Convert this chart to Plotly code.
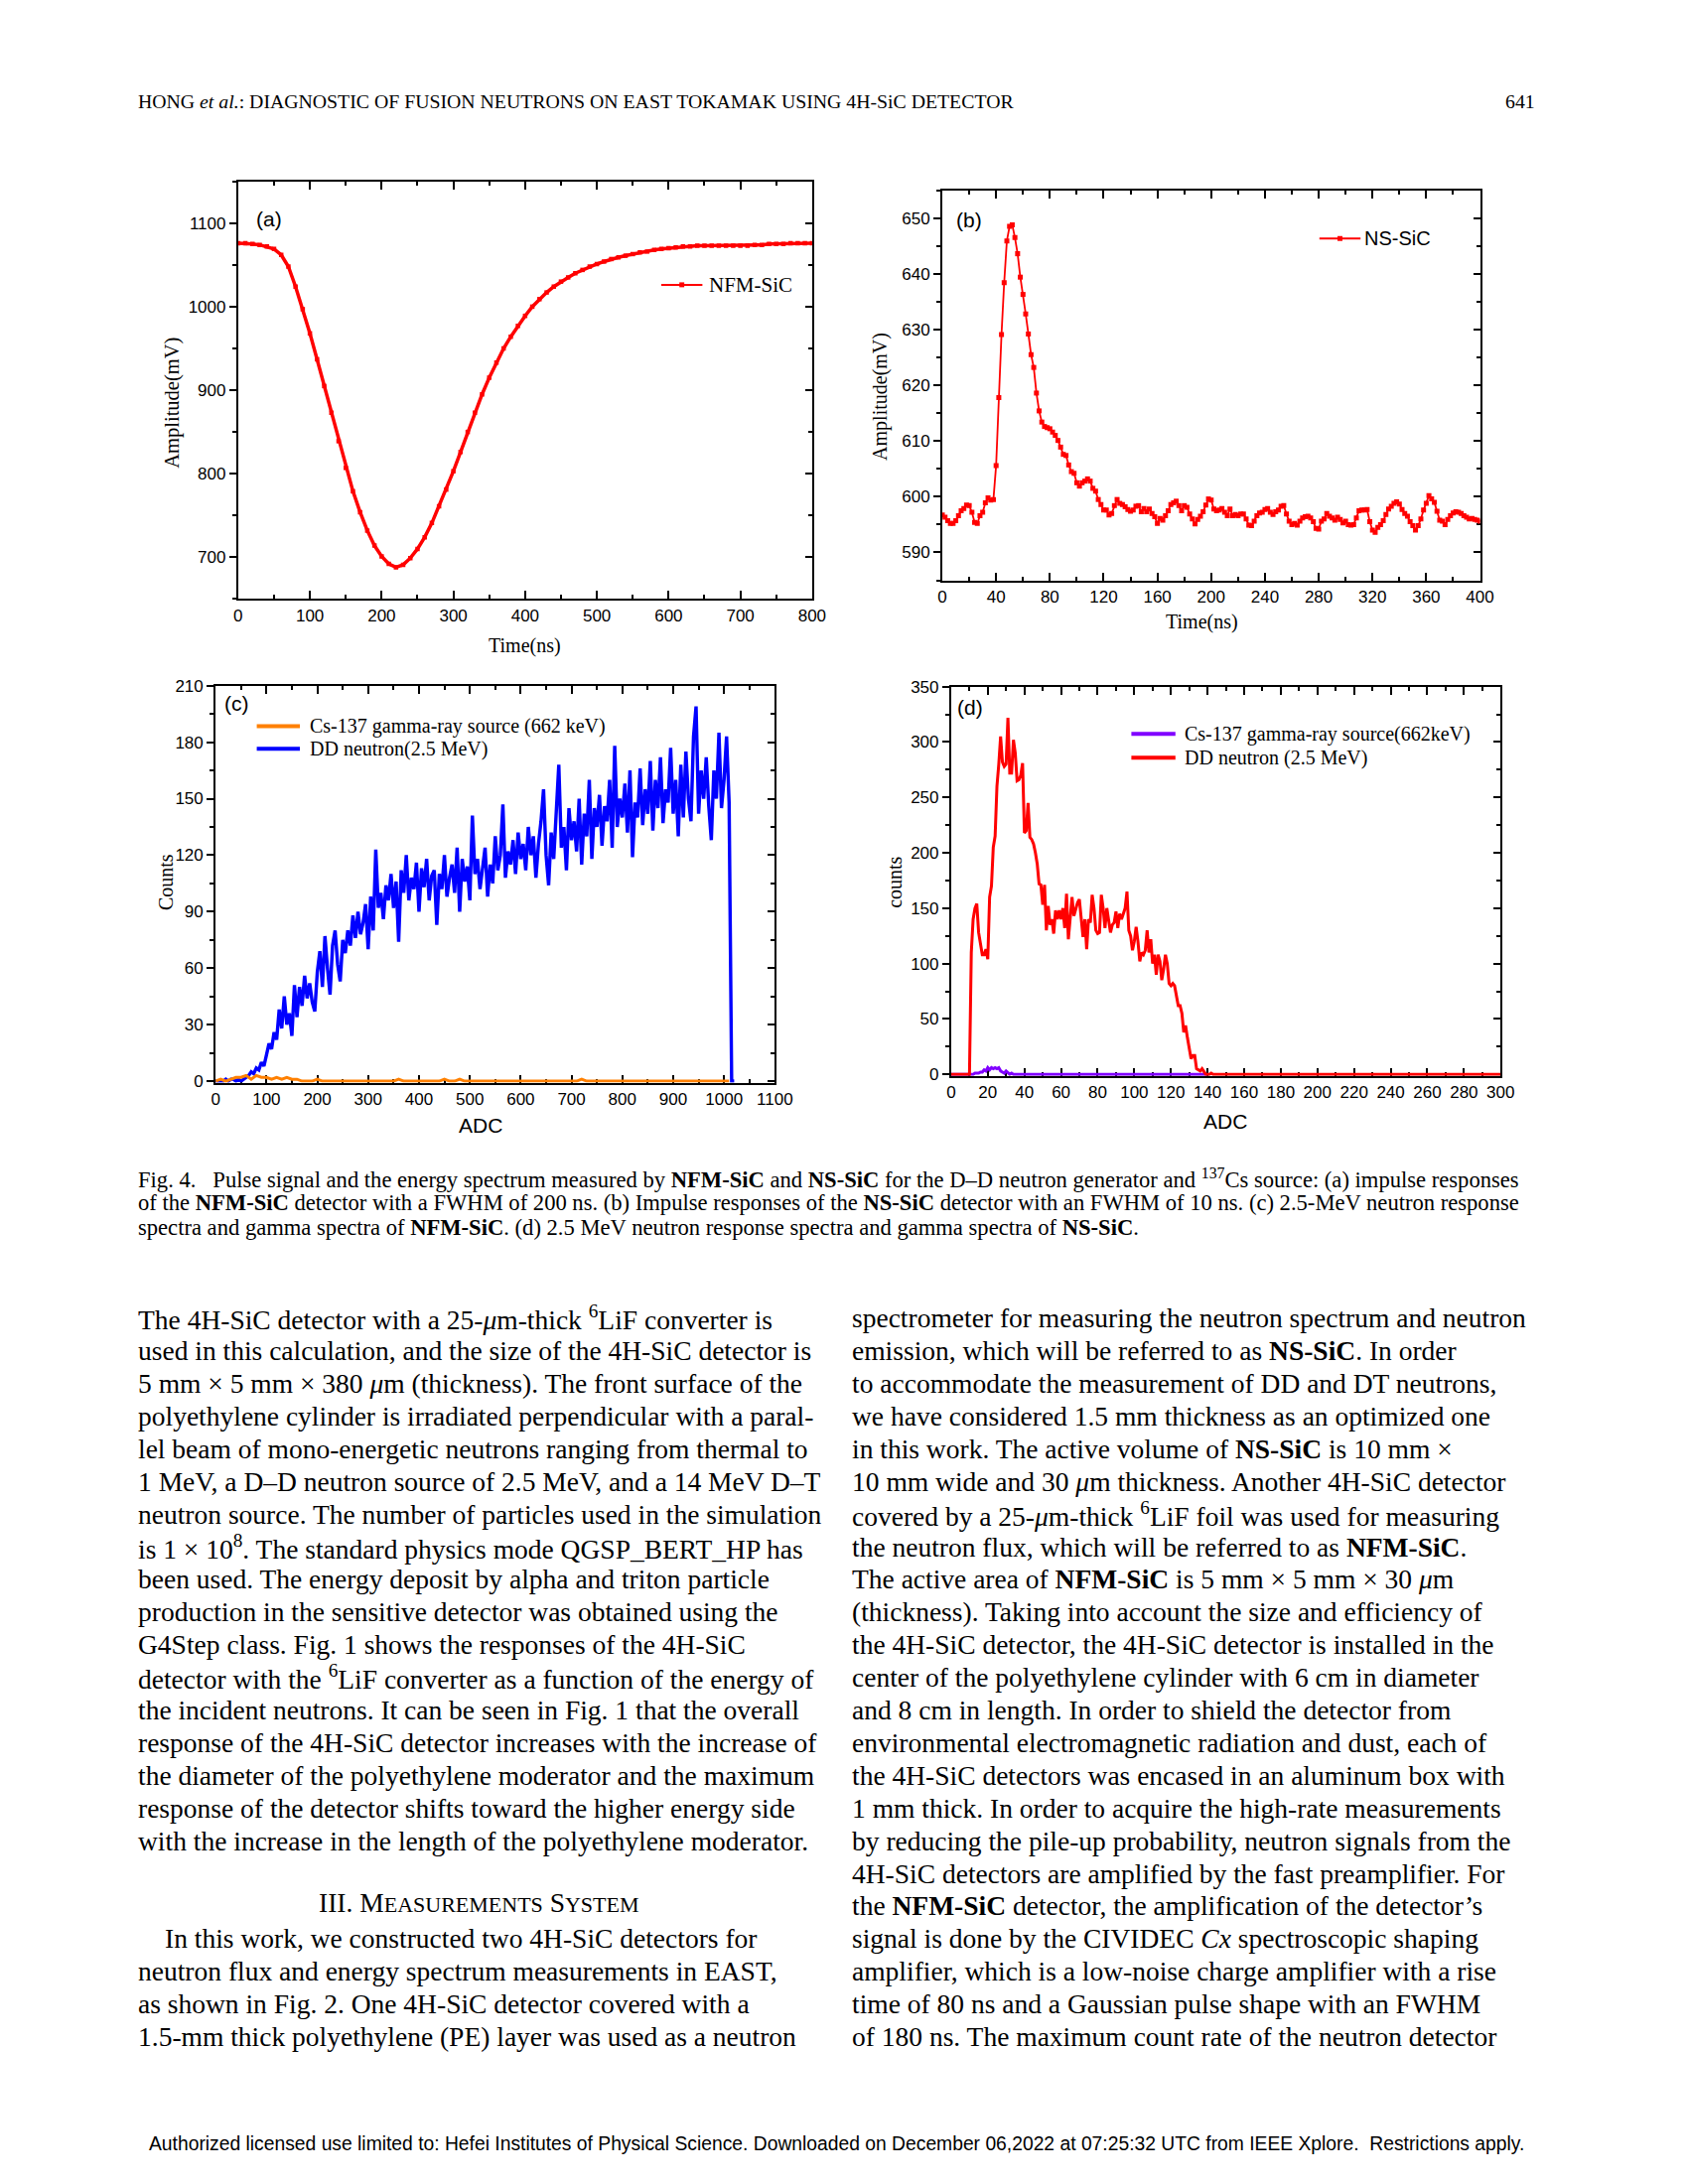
import plotly.graph_objects as go

# The page body adds an 8 px margin, so the figure is made 16 px smaller and all
# page positions are shifted by that margin.
PAGE_W, PAGE_H = 1700, 2200
OFF = 8
W, H = PAGE_W - 2 * OFF, PAGE_H - 2 * OFF
SERIF = "Liberation Serif"
SANS = "Liberation Sans"

# ---------------- data ----------------
# (a) NFM-SiC pulse, every 10 ns from 0 to 800 ns
a_step = 10
a_amp = [1076, 1076, 1075, 1074, 1072, 1069, 1062, 1048, 1024, 997,
         968, 937, 905, 873, 839, 807, 779, 754, 732, 714,
         701, 692, 688, 691, 699, 710, 724, 741, 761, 781,
         803, 826, 850, 873, 895, 915, 933, 950, 964, 977,
         989, 1000, 1009, 1017, 1024, 1030, 1035, 1040, 1044, 1048,
         1051, 1054, 1057, 1059, 1061, 1063, 1065, 1066, 1068, 1069,
         1070, 1071, 1072, 1072, 1073, 1073, 1073, 1073, 1073, 1073,
         1073, 1073, 1074, 1074, 1075, 1075, 1075, 1076, 1076, 1076,
         1076]

# (b) NS-SiC pulse, every 2 ns from 0 to 400 ns
b_step = 2
b_amp = [596.7, 596.3, 595.7, 595.2, 595.2, 595.7, 596.6, 597.5, 597.9, 598.5,
         598.4, 597.2, 595.4, 595.2, 596.6, 597.2, 598.9, 599.8, 599.4, 599.5,
         605.6, 617.8, 629.1, 638.4, 645.9, 648.5, 648.8, 646.5, 643.6, 639.4,
         636.3, 632.8, 629.2, 625.5, 623.2, 618.6, 615.4, 613.4, 612.6, 612.4,
         612.2, 611.6, 611.0, 610.1, 608.9, 607.6, 607.4, 605.7, 604.5, 604.2,
         602.5, 601.9, 602.5, 602.8, 603.2, 602.8, 601.5, 601.0, 599.5, 598.6,
         597.6, 597.6, 596.7, 597.0, 598.4, 599.5, 598.8, 598.6, 598.2, 597.7,
         597.4, 597.6, 598.3, 598.4, 597.3, 597.9, 597.3, 597.8, 597.0, 596.4,
         595.2, 596.1, 595.8, 596.6, 597.5, 598.6, 598.9, 599.2, 598.4, 597.5,
         598.4, 598.1, 596.9, 596.0, 595.1, 595.9, 596.5, 597.3, 598.5, 599.6,
         599.4, 597.8, 597.5, 597.6, 597.9, 597.2, 596.6, 597.8, 596.6, 596.8,
         596.6, 596.9, 596.9, 596.0, 594.9, 594.8, 595.6, 596.6, 597.1, 597.2,
         597.7, 597.9, 597.2, 596.8, 597.3, 597.6, 598.3, 598.4, 596.9, 595.6,
         595.0, 595.2, 594.9, 595.6, 596.2, 596.4, 596.5, 596.2, 595.5, 594.3,
         594.2, 595.6, 596.0, 597.0, 596.5, 596.2, 595.8, 596.3, 595.9, 595.3,
         595.6, 595.0, 594.9, 595.0, 596.2, 597.5, 597.6, 597.6, 597.7, 595.5,
         594.0, 593.6, 594.5, 595.0, 595.7, 596.8, 597.8, 598.3, 598.8, 599.1,
         598.7, 597.7, 597.0, 596.5, 595.5, 594.8, 594.0, 594.8, 596.0, 597.6,
         598.8, 600.2, 599.6, 599.0, 597.4, 595.8, 595.6, 595.0, 595.9, 596.6,
         597.1, 597.3, 597.2, 597.0, 596.6, 596.3, 596.0, 596.1, 595.9, 595.8,
         595.6]

# (c) NFM-SiC spectra; DD neutron every 5 ADC (0..1020), Cs-137 every 10 ADC (0..1010)
c_step_dd = 5
c_dd = [0, 0, 0, 0, 1, 0, 1, 1, 0, 1, 0, 1, 2, 3, 5, 4, 7, 6, 10, 8,
        14, 20, 17, 26, 22, 38, 28, 45, 30, 36, 24, 51, 34, 50, 40, 56, 44, 52, 42, 37,
        58, 69, 50, 77, 60, 46, 72, 80, 62, 53, 75, 68, 80, 72, 88, 76, 90, 78, 84, 94,
        70, 98, 80, 123, 92, 100, 86, 104, 96, 110, 92, 106, 74, 112, 100, 120, 96, 108, 102, 116,
        90, 113, 103, 118, 96, 109, 112, 83, 110, 102, 120, 98, 108, 115, 100, 124, 90, 118, 106, 114,
        96, 141, 110, 118, 102, 112, 124, 98, 115, 105, 130, 112, 120, 147, 108, 122, 115, 128, 110, 132,
        118, 126, 112, 135, 120, 130, 108, 126, 138, 155, 120, 104, 132, 118, 140, 168, 124, 135, 112, 145,
        128, 138, 122, 150, 115, 142, 130, 160, 118, 145, 135, 152, 125, 146, 138, 160, 124, 178, 135, 150,
        140, 158, 132, 165, 119, 148, 140, 166, 136, 155, 142, 170, 133, 160, 145, 172, 137, 155, 148, 177,
        142, 160, 130, 168, 140, 175, 150, 138, 183, 199, 142, 165, 150, 172, 146, 128, 165, 150, 185, 145,
        160, 183, 148, 0, 0]
c_step_cs = 10
c_cs = [0, 1, 0, 1, 2, 2, 3, 1, 3, 2, 2, 1, 2, 1, 2, 1, 1, 0, 0, 0,
        1, 0, 0, 0, 0, 0, 0, 0, 0, 0, 0, 0, 0, 0, 0, 0, 1, 0, 0, 0,
        0, 0, 0, 0, 0, 1, 0, 0, 1, 0, 0, 0, 0, 0, 0, 0, 0, 0, 0, 0,
        0, 0, 0, 0, 0, 0, 0, 0, 0, 0, 0, 0, 1, 0, 0, 0, 0, 0, 0, 0,
        0, 0, 0, 0, 0, 0, 0, 0, 0, 0, 0, 0, 0, 0, 0, 0, 0, 0, 0, 0,
        0, 0]

# (d) NS-SiC spectra
d_dd_adc = [0, 10] + list(range(11, 144)) + [300]
d_dd = [0, 0,
        110, 140, 150, 154, 128, 118, 108, 108, 113, 104,
        160, 170, 205, 215, 260, 280, 305, 282, 278, 280,
        322, 272, 272, 302, 290, 265, 266, 270, 281, 218,
        220, 245, 214, 212, 208, 200, 190, 172, 171, 153,
        171, 130, 152, 135, 140, 127, 148, 140, 148, 140,
        150, 132, 163, 122, 145, 160, 143, 150, 155, 158,
        140, 124, 140, 113, 140, 137, 162, 150, 130, 127,
        128, 162, 150, 132, 150, 137, 128, 135, 137, 147,
        132, 145, 140, 145, 150, 165, 130, 125, 112, 120,
        133, 120, 102, 110, 108, 112, 130, 110, 122, 100,
        108, 90, 108, 102, 85, 95, 108, 100, 82, 80,
        82, 80, 72, 62, 62, 55, 38, 44, 33, 25,
        14, 17, 17, 5, 4, 3, 5, 2, 0, 0,
        0, 1, 0,
        0]
d_cs_adc = list(range(0, 41)) + [140]
d_cs = [0, 0, 0, 0, 0, 0, 0, 0, 0, 0, 0, 0, 0,
        1, 1, 1, 2, 2, 4, 3, 6, 4, 6, 5, 6, 5, 6, 3, 2, 1, 3, 1, 0, 1, 0,
        0, 0, 0, 0, 0, 0,
        0]

# ---------------- figure ----------------
fig = go.Figure()

RED = "#FF0000"
BLUE = "#0000FF"
ORANGE = "#FF8000"
PURPLE = "#8000FF"

fig.add_trace(go.Scatter(x=[a_step * i for i in range(len(a_amp))], y=a_amp,
                         mode="lines+markers", line=dict(color=RED, width=3.5),
                         marker=dict(symbol="square", size=4.5, color=RED),
                         xaxis="x", yaxis="y", showlegend=False, name="NFM-SiC"))
fig.add_trace(go.Scatter(x=[b_step * i for i in range(len(b_amp))], y=b_amp,
                         mode="lines+markers", line=dict(color=RED, width=1.8),
                         marker=dict(symbol="square", size=5, color=RED),
                         xaxis="x2", yaxis="y2", showlegend=False, name="NS-SiC"))
fig.add_trace(go.Scatter(x=[c_step_dd * i for i in range(len(c_dd))], y=c_dd,
                         mode="lines", line=dict(color=BLUE, width=3.4),
                         xaxis="x3", yaxis="y3", showlegend=False, name="DD neutron(2.5 MeV)"))
fig.add_trace(go.Scatter(x=[c_step_cs * i for i in range(len(c_cs))], y=c_cs,
                         mode="lines", line=dict(color=ORANGE, width=3),
                         xaxis="x3", yaxis="y3", showlegend=False, name="Cs-137 gamma-ray source (662 keV)"))
fig.add_trace(go.Scatter(x=d_cs_adc, y=d_cs,
                         mode="lines", line=dict(color=PURPLE, width=3),
                         xaxis="x4", yaxis="y4", showlegend=False, name="Cs-137 gamma-ray source(662keV)"))
fig.add_trace(go.Scatter(x=d_dd_adc, y=d_dd,
                         mode="lines", line=dict(color=RED, width=3),
                         xaxis="x4", yaxis="y4", showlegend=False, name="DD neutron (2.5 MeV)"))

def fx(X):
    return (X - OFF) / W

def fy(Y):
    return 1 - (Y - OFF) / H

panels = [
    # id, x px, y px, xrange, yrange, xdtick, xminor, ydtick, yminor
    (1, (238, 824), (175, 599), [0, 800], [650, 1150], 100, 50, 100, 50),
    (2, (957, 1506), (184, 580), [0, 400], [585, 655], 40, 20, 10, 5),
    (3, (215, 786), (687, 1090), [0, 1100], [-0.8, 210], 100, 50, 30, 15),
    (4, (966, 1527), (688, 1083), [0, 300], [-1.3, 350], 20, 10, 50, 25),
]

tickfont = dict(family=SANS, size=17, color="black")
layout_axes = {}
for pid, xp, yp, xr, yr, xdt, xmn, ydt, ymn in panels:
    sx = "" if pid == 1 else str(pid)
    xn, yn = "x" + sx, "y" + sx
    common = dict(showline=True, linecolor="black", linewidth=2, showgrid=False,
                  zeroline=False, tickcolor="black", tickwidth=2, tick0=0,
                  layer="below traces", fixedrange=True, autorange=False)
    layout_axes["xaxis" + sx] = dict(common, domain=[fx(xp[0]), fx(xp[1])], range=xr, anchor=yn,
                                     side="bottom", ticks="inside", ticklen=8, dtick=xdt,
                                     tickfont=tickfont,
                                     minor=dict(ticks="inside", ticklen=4, tickwidth=2, tickcolor="black",
                                                dtick=xmn, tick0=0, showgrid=False))
    layout_axes["yaxis" + sx] = dict(common, domain=[fy(yp[1]), fy(yp[0])], range=yr, anchor=xn,
                                     side="left", ticks="outside", ticklen=7, dtick=ydt,
                                     tickfont=tickfont,
                                     minor=dict(ticks="outside", ticklen=4, tickwidth=2, tickcolor="black",
                                                dtick=ymn, tick0=0, showgrid=False))
    ox = str(pid + 4)
    layout_axes["xaxis" + ox] = dict(common, range=xr, overlaying=xn, anchor=yn, side="top",
                                     ticks="inside", ticklen=8, dtick=xdt, showticklabels=False,
                                     minor=dict(ticks="inside", ticklen=4, tickwidth=2, tickcolor="black",
                                                dtick=xmn, tick0=0, showgrid=False))
    layout_axes["yaxis" + ox] = dict(common, range=yr, overlaying=yn, anchor=xn, side="right",
                                     ticks="inside", ticklen=7, dtick=ydt, showticklabels=False,
                                     minor=dict(ticks="inside", ticklen=4, tickwidth=2, tickcolor="black",
                                                dtick=ymn, tick0=0, showgrid=False))
    # invisible trace so that the mirrored frame axes (top / right) are drawn
    fig.add_trace(go.Scatter(x=xr, y=yr, mode="markers", marker=dict(opacity=0, size=1),
                             xaxis="x" + ox, yaxis="y" + ox, hoverinfo="skip", showlegend=False))

fig.update_layout(**layout_axes)

annotations = []

def ann(text, x, y, size, family=SERIF, xanchor="left", yanchor="middle", angle=0):
    annotations.append(dict(text=text, x=fx(x), y=fy(y), xref="paper", yref="paper",
                            showarrow=False, xanchor=xanchor, yanchor=yanchor, textangle=angle,
                            font=dict(family=family, size=size, color="black"),
                            borderpad=0, borderwidth=0))

# axis titles
ann("Amplitude(mV)", 171, 400, 20.5, angle=-90, xanchor="center")
ann("Time(ns)", 531, 646, 20, xanchor="center")
ann("Amplitude(mV)", 893, 393, 20, angle=-90, xanchor="center")
ann("Time(ns)", 1222, 622, 20, xanchor="center")
ann("Counts", 164, 886, 20, angle=-90, xanchor="center")
ann("ADC", 486, 1133, 21, family=SANS, xanchor="center")
ann("counts", 908, 887, 20, angle=-90, xanchor="center")
ann("ADC", 1246, 1129, 21, family=SANS, xanchor="center")

# panel labels
ann("(a)", 256, 213, 21, family=SANS)
ann("(b)", 971, 214, 21, family=SANS)
ann("(c)", 224, 705, 21, family=SANS)
ann("(d)", 972, 709, 21, family=SANS)

# legend keys
shapes = []

def legend_key(x0, x1, y, color, width, marker=False):
    shapes.append(dict(type="line", xref="paper", yref="paper", x0=fx(x0), x1=fx(x1),
                       y0=fy(y), y1=fy(y), line=dict(color=color, width=width)))
    if marker:
        xm = (x0 + x1) / 2
        shapes.append(dict(type="rect", xref="paper", yref="paper", x0=fx(xm - 2.5), x1=fx(xm + 2.5),
                           y0=fy(y + 2.5), y1=fy(y - 2.5), fillcolor=color, line=dict(width=0)))

legend_key(670, 712, 280, RED, 2, True)
ann("NFM-SiC", 719, 280, 21)
legend_key(1342, 1384, 233, RED, 2, True)
ann("NS-SiC", 1388, 233, 20, family=SANS)
legend_key(257, 301, 728, ORANGE, 4)
ann("Cs-137 gamma-ray source (662 keV)", 311, 728, 20)
legend_key(257, 301, 751, BLUE, 4)
ann("DD neutron(2.5 MeV)", 311, 751, 20)
legend_key(1150, 1195, 736, PURPLE, 4)
ann("Cs-137 gamma-ray source(662keV)", 1204, 736, 20)
legend_key(1150, 1195, 760, RED, 4)
ann("DD neutron (2.5 MeV)", 1204, 760, 20)

# page header / caption / body / footer
ann("HONG <i>et al.</i>: DIAGNOSTIC OF FUSION NEUTRONS ON EAST TOKAMAK USING 4H-SiC DETECTOR", 136, 94, 19.8)
ann("641", 1562, 94, 19.8, xanchor="right")

caption = [
    "Fig. 4.   Pulse signal and the energy spectrum measured by <b>NFM-SiC</b> and <b>NS-SiC</b> for the D–D neutron generator and <sup>137</sup>Cs source: (a) impulse responses",
    "of the <b>NFM-SiC</b> detector with a FWHM of 200 ns. (b) Impulse responses of the <b>NS-SiC</b> detector with an FWHM of 10 ns. (c) 2.5-MeV neutron response",
    "spectra and gamma spectra of <b>NFM-SiC</b>. (d) 2.5 MeV neutron response spectra and gamma spectra of <b>NS-SiC</b>.",
]
for i, line in enumerate(caption):
    ann(line, 136, 1187 + i * 24.8, 22.6)

left_col = [
    "The 4H-SiC detector with a 25-<i>μ</i>m-thick <sup>6</sup>LiF converter is",
    "used in this calculation, and the size of the 4H-SiC detector is",
    "5 mm × 5 mm × 380 <i>μ</i>m (thickness). The front surface of the",
    "polyethylene cylinder is irradiated perpendicular with a paral-",
    "lel beam of mono-energetic neutrons ranging from thermal to",
    "1 MeV, a D–D neutron source of 2.5 MeV, and a 14 MeV D–T",
    "neutron source. The number of particles used in the simulation",
    "is 1 × 10<sup>8</sup>. The standard physics mode QGSP_BERT_HP has",
    "been used. The energy deposit by alpha and triton particle",
    "production in the sensitive detector was obtained using the",
    "G4Step class. Fig. 1 shows the responses of the 4H-SiC",
    "detector with the <sup>6</sup>LiF converter as a function of the energy of",
    "the incident neutrons. It can be seen in Fig. 1 that the overall",
    "response of the 4H-SiC detector increases with the increase of",
    "the diameter of the polyethylene moderator and the maximum",
    "response of the detector shifts toward the higher energy side",
    "with the increase in the length of the polyethylene moderator.",
]
left_col2 = [
    "In this work, we constructed two 4H-SiC detectors for",
    "neutron flux and energy spectrum measurements in EAST,",
    "as shown in Fig. 2. One 4H-SiC detector covered with a",
    "1.5-mm thick polyethylene (PE) layer was used as a neutron",
]
right_col = [
    "spectrometer for measuring the neutron spectrum and neutron",
    "emission, which will be referred to as <b>NS-SiC</b>. In order",
    "to accommodate the measurement of DD and DT neutrons,",
    "we have considered 1.5 mm thickness as an optimized one",
    "in this work. The active volume of <b>NS-SiC</b> is 10 mm ×",
    "10 mm wide and 30 <i>μ</i>m thickness. Another 4H-SiC detector",
    "covered by a 25-<i>μ</i>m-thick <sup>6</sup>LiF foil was used for measuring",
    "the neutron flux, which will be referred to as <b>NFM-SiC</b>.",
    "The active area of <b>NFM-SiC</b> is 5 mm × 5 mm × 30 <i>μ</i>m",
    "(thickness). Taking into account the size and efficiency of",
    "the 4H-SiC detector, the 4H-SiC detector is installed in the",
    "center of the polyethylene cylinder with 6 cm in diameter",
    "and 8 cm in length. In order to shield the detector from",
    "environmental electromagnetic radiation and dust, each of",
    "the 4H-SiC detectors was encased in an aluminum box with",
    "1 mm thick. In order to acquire the high-rate measurements",
    "by reducing the pile-up probability, neutron signals from the",
    "4H-SiC detectors are amplified by the fast preamplifier. For",
    "the <b>NFM-SiC</b> detector, the amplification of the detector’s",
    "signal is done by the CIVIDEC <i>Cx</i> spectroscopic shaping",
    "amplifier, which is a low-noise charge amplifier with a rise",
    "time of 80 ns and a Gaussian pulse shape with an FWHM",
    "of 180 ns. The maximum count rate of the neutron detector",
]
BODY = 27.5
Y0, DY = 1329, 33.16
for i, line in enumerate(left_col):
    ann(line, 136, Y0 + i * DY, BODY)
ann("III. M<span style='font-size:22px'>EASUREMENTS</span> S<span style='font-size:22px'>YSTEM</span>",
    484, 1922, BODY, xanchor="center")
for i, line in enumerate(left_col2):
    ann(line, 163 if i == 0 else 136, Y0 + (19 + i) * DY, BODY)
for i, line in enumerate(right_col):
    ann(line, 865, Y0 + i * DY, BODY)

ann("Authorized licensed use limited to: Hefei Institutes of Physical Science. Downloaded on December 06,2022 at 07:25:32 UTC from IEEE Xplore.  Restrictions apply.",
    849, 2167, 19.3, family=SANS, xanchor="center")

fig.update_layout(width=W, height=H, margin=dict(l=0, r=0, t=0, b=0),
                  paper_bgcolor="white", plot_bgcolor="rgba(0,0,0,0)",
                  showlegend=False, annotations=annotations, shapes=shapes)

fig.write_html("out.html")
